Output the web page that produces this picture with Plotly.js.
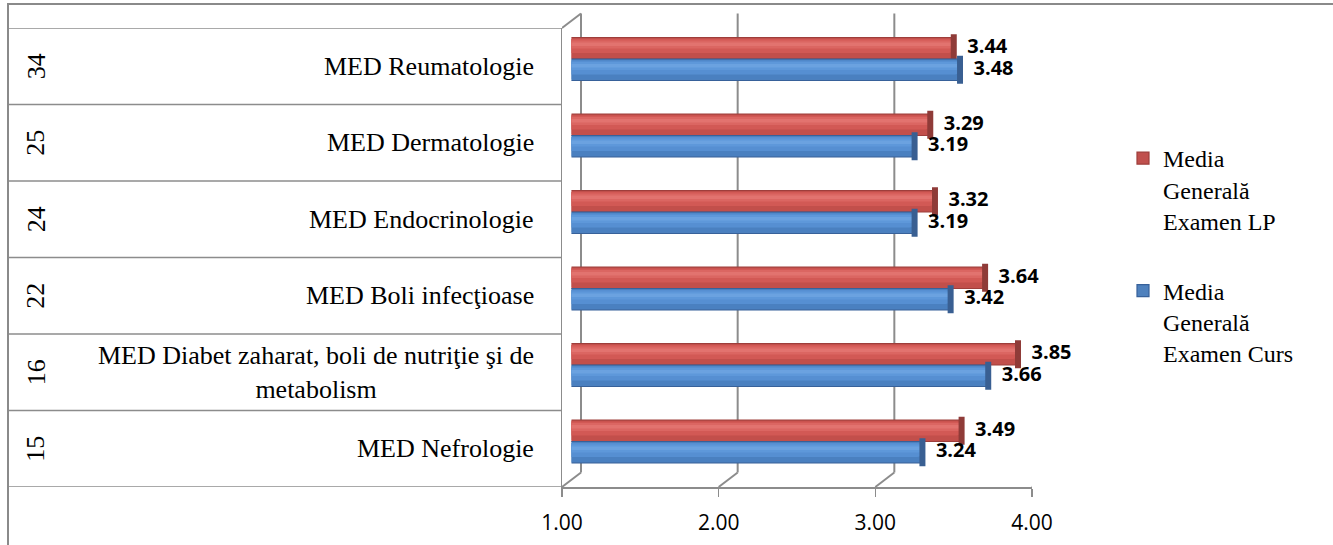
<!DOCTYPE html>
<html>
<head>
<meta charset="utf-8">
<script src="https://cdn.plot.ly/plotly-3.0.1.min.js"></script>
<style>
  html, body { margin: 0; padding: 0; background: #fff; }
  #wrap { position: relative; width: 1333px; height: 545px; overflow: hidden; }
  #chart { width: 1333px; height: 545px; }
  #frame { position: absolute; left: 7px; top: 3px; width: 1400px; height: 600px;
           border-left: 2px solid #8a8a8a; border-top: 2px solid #8a8a8a; pointer-events: none; }
</style>
</head>
<body>
<div id="wrap"><div id="chart"></div><div id="frame"></div></div>
<script>
// ---- data (top to bottom as drawn) ----
const categories = [
  'MED Reumatologie',
  'MED Dermatologie',
  'MED Endocrinologie',
  'MED Boli infecţioase',
  'MED Diabet zaharat, boli de nutriţie şi de<br>metabolism',
  'MED Nefrologie'
];
const codes = ['34', '25', '24', '22', '16', '15'];
const mediaLP = [3.44, 3.29, 3.32, 3.64, 3.85, 3.49];
const mediaCurs = [3.48, 3.19, 3.19, 3.42, 3.66, 3.24];
const seriesNames = ['Media<br>Generală<br>Examen LP', 'Media<br>Generală<br>Examen Curs'];
const tickValues = [1, 2, 3, 4];

// ---- geometry (pixels) ----
const W = 1333, H = 545;
const plotLeft = 562, plotRight = 1032, plotTop = 28, plotBottom = 487;
const depthX = 19, depthY = 14.5;          // 3-D back wall offset
const barShiftX = 9.5, barShiftY = 7.25;   // bars sit mid-depth
const barPx = 21.5;
const n = categories.length;
const bandPx = (plotBottom - plotTop) / n;
const px = p => p / W;
const py = p => 1 - p / H;
const catRange = [n - 0.5, -0.5];
const gridColor = '#8c8c8c';
const serif = 'Liberation Serif, Times New Roman, serif';
const sans = 'Open Sans, Liberation Sans, sans-serif';

function barLayer(vals, yax, color, topPx, hPx, radius, extra) {
  return Object.assign({
    type: 'bar', orientation: 'h', x: vals, y: categories,
    xaxis: 'x2', yaxis: yax,
    offset: (topPx - barPx / 2) / bandPx, width: hPx / bandPx,
    marker: { color: color, cornerradius: radius },
    showlegend: false, hoverinfo: 'skip'
  }, extra || {});
}

function series(vals, yax, name, cols) {
  return [
    barLayer(vals, yax, cols.edge, 0, barPx, 0, {
      name: name, showlegend: true, legendgroup: name,
      marker: { color: cols.legend, line: { color: cols.edge, width: 1.2 } }
    }),
    barLayer(vals, yax, cols.c1, 1, 19.5, 5),
    barLayer(vals, yax, cols.c2, 1.5, 14, 5),
    barLayer(vals, yax, cols.c3, 3, 8, 4),
    barLayer(vals, yax, cols.c4, 5, 3.5, 2),
    {
      type: 'scatter', mode: 'markers+text', x: vals, y: categories,
      xaxis: 'x2', yaxis: yax, cliponaxis: false,
      marker: { symbol: 'line-ns-open', size: 20, color: cols.cap, line: { color: cols.cap, width: 6 } },
      texttemplate: '%{x:.2f}', textposition: 'middle right',
      textfont: { family: sans, size: 20, color: '#000', weight: 'bold' },
      showlegend: false, hoverinfo: 'skip'
    }
  ];
}

const red = { legend: '#C0504D', edge: '#9E3E3B', c1: '#C24F4B', c2: '#D25955', c3: '#DB6662', c4: '#E2736F', cap: '#8F3B38' };
const blue = { legend: '#4F81BD', edge: '#37619A', c1: '#4A80C0', c2: '#568FD2', c3: '#5E98DA', c4: '#6BA2E0', cap: '#395F92' };

const data = [
  { type: 'scatter', mode: 'none', x: mediaLP, y: categories, xaxis: 'x', yaxis: 'y',
    showlegend: false, hoverinfo: 'skip' }
].concat(
  series(mediaLP, 'y2', seriesNames[0], red),
  series(mediaCurs, 'y3', seriesNames[1], blue)
);

// ---- decoration shapes ----
const shapes = [];
tickValues.forEach(v => {
  shapes.push({ type: 'line', layer: 'below', xref: 'x', xsizemode: 'pixel', xanchor: v,
    x0: 0, x1: depthX, yref: 'paper', y0: py(plotBottom), y1: py(plotBottom - depthY),
    line: { color: gridColor, width: 2 } });
  shapes.push({ type: 'line', layer: 'below', xref: 'x', xsizemode: 'pixel', xanchor: v,
    x0: depthX, x1: depthX, yref: 'paper', y0: py(plotBottom - depthY), y1: py(plotTop - depthY),
    line: { color: gridColor, width: 2 } });
});
shapes.push({ type: 'line', layer: 'below', xref: 'x', xsizemode: 'pixel', xanchor: tickValues[0],
  x0: 0, x1: depthX, yref: 'paper', y0: py(plotTop), y1: py(plotTop - depthY),
  line: { color: gridColor, width: 2 } });
for (let i = 0; i <= n; i++) {
  shapes.push({ type: 'line', layer: 'below', xref: 'paper', x0: px(8), x1: px(plotLeft),
    yref: 'y', y0: i - 0.5, y1: i - 0.5, line: { color: gridColor, width: 1.5 } });
}

// ---- labels ----
const annotations = [];
categories.forEach((c, i) => {
  annotations.push({ xref: 'paper', x: px(536), xanchor: 'right', yref: 'y', y: c, yanchor: 'middle',
    text: c, showarrow: false, align: 'center',
    font: { family: serif, size: 26, color: '#000' } });
  annotations.push({ xref: 'paper', x: px(36), xanchor: 'center', yref: 'y', y: c, yanchor: 'middle',
    text: codes[i], textangle: -90, showarrow: false,
    font: { family: serif, size: 26, color: '#000' } });
});

const hiddenCat = { type: 'category', range: catRange, visible: false, fixedrange: true };

const layout = {
  width: W, height: H,
  margin: { l: 0, r: 0, t: 0, b: 0 },
  font: { family: serif, color: '#000' },
  paper_bgcolor: '#fff', plot_bgcolor: 'rgba(0,0,0,0)',
  barmode: 'overlay', hovermode: false,
  xaxis: {
    domain: [px(plotLeft), px(plotRight)], range: [1, 4], anchor: 'y',
    tickvals: tickValues, tickformat: '.2f',
    ticks: 'outside', ticklen: 8, tickwidth: 1.5, tickcolor: gridColor,
    showline: true, linecolor: gridColor, linewidth: 1.5,
    showgrid: false, zeroline: false, ticklabelstandoff: 8,
    tickfont: { family: sans, size: 21, color: '#000' },
    fixedrange: true
  },
  yaxis: {
    domain: [py(plotBottom), py(plotTop)], type: 'category', range: catRange, anchor: 'x',
    showline: true, linecolor: gridColor, linewidth: 1.5, ticks: '', showticklabels: false,
    showgrid: false, zeroline: false, fixedrange: true
  },
  xaxis2: {
    domain: [px(plotLeft + barShiftX), px(plotRight + barShiftX)], range: [1, 4], anchor: 'y2',
    visible: false, fixedrange: true
  },
  yaxis2: Object.assign({}, hiddenCat, {
    domain: [py(plotBottom - barShiftY - barPx / 2), py(plotTop - barShiftY - barPx / 2)], anchor: 'x2' }),
  yaxis3: Object.assign({}, hiddenCat, {
    domain: [py(plotBottom - barShiftY + barPx / 2), py(plotTop - barShiftY + barPx / 2)], anchor: 'x2' }),
  legend: {
    x: px(1123), xanchor: 'left', y: py(136), yanchor: 'top',
    bgcolor: 'rgba(0,0,0,0)', borderwidth: 0,
    font: { family: serif, size: 24, color: '#000' },
    tracegroupgap: 36, valign: 'top', traceorder: 'grouped'
  },
  shapes: shapes,
  annotations: annotations
};

Plotly.newPlot('chart', data, layout, { displayModeBar: false, staticPlot: true });
</script>
</body>
</html>
